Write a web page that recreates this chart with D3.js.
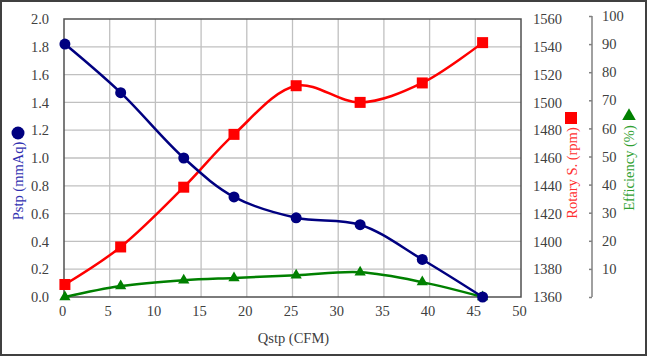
<!DOCTYPE html>
<html><head><meta charset="utf-8">
<script src="https://cdn.jsdelivr.net/npm/d3@7"></script>
<style>body{margin:0;background:#fff}svg{display:block}svg text{font-family:'Liberation Serif','Times New Roman',serif}</style>
</head><body>
<script>
const qstp = [0.1, 6.2, 13.1, 18.6, 25.4, 32.4, 39.2, 45.8];
const pstp = [1.82, 1.47, 1.00, 0.72, 0.57, 0.52, 0.27, 0.0];
const rpm = [1369, 1396, 1439, 1477, 1512, 1500, 1514, 1543];
const eff = [0.0, 3.9, 6.0, 6.8, 7.7, 8.8, 5.3, 0.0];
const xTicks = [0,5,10,15,20,25,30,35,40,45,50];
const pTicks = [0,0.2,0.4,0.6,0.8,1.0,1.2,1.4,1.6,1.8,2.0];
const rTicks = [1360,1380,1400,1420,1440,1460,1480,1500,1520,1540,1560];
const eTicks = [10,20,30,40,50,60,70,80,90,100];

const W=647,H=356;
const svg=d3.select("body").append("svg").attr("width",W).attr("height",H);
svg.append("rect").attr("x",1).attr("y",1).attr("width",W-2).attr("height",H-2)
  .attr("fill","#fff").attr("stroke","#404040").attr("stroke-width",2);

const L=64,R=521,T=19,B=297;
const x=d3.scaleLinear().domain([0,50]).range([L,R]);
const yP=d3.scaleLinear().domain([0,2]).range([B,T]);
const yR=d3.scaleLinear().domain([1360,1560]).range([B,T]);
const yE=d3.scaleLinear().domain([0,100]).range([B,16]);
const font="'Liberation Serif','Times New Roman',serif";
const tc="#404040";
const fs=14.5;

// grid
svg.append("g").selectAll("line").data(xTicks.slice(1,-1)).join("line")
  .attr("x1",d=>x(d)).attr("x2",d=>x(d)).attr("y1",T).attr("y2",B)
  .attr("stroke","#c0c0c0").attr("stroke-width",1.3);
svg.append("g").selectAll("line").data(pTicks.slice(1,-1)).join("line")
  .attr("x1",L).attr("x2",R).attr("y1",d=>yP(d)).attr("y2",d=>yP(d))
  .attr("stroke","#c0c0c0").attr("stroke-width",1.3);
svg.append("rect").attr("x",L).attr("y",T).attr("width",R-L).attr("height",B-T)
  .attr("fill","none").attr("stroke","#505050").attr("stroke-width",1.5);

// axes
const ax=svg.append("g").attr("transform",`translate(-2,${B})`)
  .call(d3.axisBottom(x).tickValues(xTicks).tickSize(0).tickPadding(9).tickFormat(d3.format("d")));
const ay=svg.append("g").attr("transform",`translate(${L},0)`)
  .call(d3.axisLeft(yP).tickValues(pTicks).tickSize(0).tickPadding(15).tickFormat(d3.format(".1f")));
const ar=svg.append("g").attr("transform",`translate(${R},0)`)
  .call(d3.axisRight(yR).tickValues(rTicks).tickSize(0).tickPadding(12).tickFormat(d3.format("d")));
const ae=svg.append("g").attr("transform",`translate(592,0)`)
  .call(d3.axisLeft(yE).tickValues([0].concat(eTicks)).tickSize(3).tickFormat(d=>d===0?"":d));
ae.selectAll(".tick text").attr("text-anchor","start").attr("x",10);
ae.select(".domain").attr("d",`M0,${yE(100)}V${yE(0)}`);
[ax,ay,ar].forEach(g=>g.select(".domain").remove());
[ax,ay,ar,ae].forEach(g=>{
  g.attr("font-family",font).attr("font-size",fs);
  g.selectAll("text").attr("font-family",font).style("font-family",font).attr("font-size",fs).attr("fill",tc);
  g.selectAll(".domain,.tick line").attr("stroke","#808080").attr("stroke-width",1.5);
});

// lines
const curve=d3.curveCatmullRom.alpha(0.5);
function series(vals,ys,color){
  const pts=qstp.map((q,i)=>[x(q),ys(vals[i])]);
  svg.append("path").attr("d",d3.line().curve(curve)(pts))
    .attr("fill","none").attr("stroke",color).attr("stroke-width",2.5);
  return pts;
}
const pr=series(rpm,yR,"#ff0000");
const pe=series(eff,yE,"#008000");
const pp=series(pstp,yP,"#000080");
svg.append("g").selectAll("rect").data(pr).join("rect")
  .attr("x",d=>d[0]-5.5).attr("y",d=>d[1]-5.5).attr("width",11).attr("height",11).attr("fill","#ff0000");
const tri=d3.symbol().type(d3.symbolTriangle).size(55);
svg.append("g").selectAll("path").data(pe).join("path")
  .attr("d",tri).attr("transform",d=>`translate(${d[0]},${d[1]})`).attr("fill","#008000");
svg.append("g").selectAll("circle").data(pp).join("circle")
  .attr("cx",d=>d[0]).attr("cy",d=>d[1]).attr("r",5.5).attr("fill","#000080");

// titles
svg.append("text").attr("x",x(25)+1).attr("y",343).attr("text-anchor","middle")
  .attr("font-family",font).attr("font-size",fs).attr("fill",tc).text("Qstp (CFM)");
function vtitle(cx,cy,txt,color){
  svg.append("text").attr("transform",`translate(${cx},${cy}) rotate(-90)`)
    .attr("text-anchor","middle").attr("font-family",font).attr("font-size",fs)
    .attr("fill",color).text(txt);
}
vtitle(23,181,"Pstp (mmAq)","#3030b0");
svg.append("circle").attr("cx",18).attr("cy",133).attr("r",6.5).attr("fill","#000080");
vtitle(577,173,"Rotary S. (rpm)","#ff3030");
svg.append("rect").attr("x",565).attr("y",112).attr("width",12).attr("height",12).attr("fill","#ff0000");
vtitle(634,168,"Efficiency (%)","#30a030");
svg.append("path").attr("d",d3.symbol().type(d3.symbolTriangle).size(80))
  .attr("transform","translate(629,116)").attr("fill","#008000");
</script>
</body></html>
